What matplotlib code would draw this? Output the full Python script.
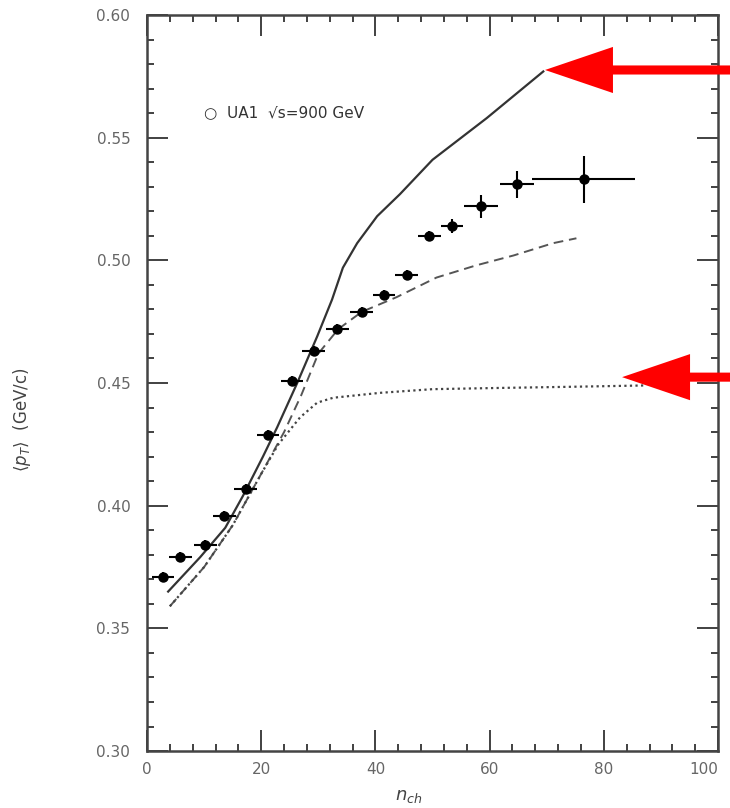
import matplotlib.pyplot as plt
from matplotlib.patches import FancyArrow
from matplotlib.ticker import MultipleLocator

# UA1 data points
n_ch = [2.8, 5.8, 10.2, 13.5, 17.3, 21.2, 25.4, 29.2, 33.3, 37.6,
        41.5, 45.5, 49.4, 53.4, 58.5, 64.8, 76.5]
pt_mean = [0.371, 0.379, 0.384, 0.396, 0.407, 0.429, 0.451, 0.463, 0.472, 0.479,
           0.486, 0.494, 0.510, 0.514, 0.522, 0.531, 0.533]
n_err = [2, 2, 2, 2, 2, 2, 2, 2, 2, 2, 2, 2, 2, 2, 3, 3, 9]
pt_err = [0.002, 0.002, 0.002, 0.002, 0.002, 0.002, 0.002, 0.002, 0.002, 0.002,
          0.002, 0.002, 0.002, 0.003, 0.0047, 0.0055, 0.0095]

# model curves
solid_x = [3.7, 9.3, 13.7, 16.8, 20.3, 22.8, 26.3, 29.8, 32.4, 34.3, 36.8,
           40.3, 44.3, 50.0, 59.5, 69.4]
solid_y = [0.365, 0.379, 0.391, 0.404, 0.420, 0.432, 0.450, 0.469, 0.484, 0.497, 0.507,
           0.518, 0.527, 0.541, 0.558, 0.577]

dashed_x = [4.0, 10, 15, 20, 24, 27, 30, 33.5, 37.6, 43.7, 50.7, 57.7, 64.2, 71.1, 75.2]
dashed_y = [0.359, 0.375, 0.392, 0.413, 0.430, 0.445, 0.462, 0.472, 0.479, 0.485,
            0.493, 0.498, 0.502, 0.507, 0.509]

dotted_x = [4.0, 10, 15, 20, 23, 26.8, 29.8, 32.6, 40.8, 50, 61.8, 75, 86.9]
dotted_y = [0.359, 0.375, 0.392, 0.413, 0.425, 0.436, 0.442, 0.444, 0.446, 0.4475,
            0.448, 0.4485, 0.449]

x_ticks = [0, 20, 40, 60, 80, 100]

# red arrows (tip x, tip y)
arrow_tips = [(69.7, 0.5776), (83.2, 0.4524)]

fig = plt.figure(figsize=(7.3, 8.08), dpi=100)
ax = fig.add_axes([0.2014, 0.0705, 0.7822, 0.9109])

ax.plot(solid_x, solid_y, color='#333333', lw=1.6, ls='-')
ax.plot(dashed_x, dashed_y, color='#555555', lw=1.4, ls=(0, (5, 3)))
ax.plot(dotted_x, dotted_y, color='#444444', lw=1.6, ls=(0, (1, 1.5)))

ax.errorbar(n_ch, pt_mean, xerr=n_err, yerr=pt_err, fmt='o', color='black',
            ms=6.5, elinewidth=1.5, capsize=0)

ax.set_xlim(0, 100)
ax.set_ylim(0.30, 0.60)
ax.set_xticks(x_ticks)
ax.set_xticklabels([str(t) for t in x_ticks])
ax.get_xticklabels()[-1].set_horizontalalignment('right')
ax.xaxis.set_minor_locator(MultipleLocator(4))
ax.yaxis.set_major_locator(MultipleLocator(0.05))
ax.yaxis.set_minor_locator(MultipleLocator(0.01))
ax.tick_params(which='both', direction='in', top=True, right=True,
               color='#333333', labelcolor='#666666', labelsize=11)
ax.tick_params(which='major', length=15, width=1.3)
ax.tick_params(which='minor', length=5, width=1.3)
ax.tick_params(axis='y', pad=12)
ax.tick_params(axis='x', pad=8)
ax.yaxis.set_major_formatter(plt.FormatStrFormatter('%.2f'))
for s in ax.spines.values():
    s.set_color('#444444')
    s.set_linewidth(1.8)

ax.text(0.100, 0.867, '○  UA1  √s=900 GeV', transform=ax.transAxes,
        fontsize=11, color='#333333', va='center')

fig.text(0.03, 0.48, r'$\langle p_T \rangle$  (GeV/c)', rotation=90,
         fontsize=12, color='#444444', ha='center', va='center')
fig.text(0.56, 0.015, r'$n_{ch}$', fontsize=13, color='#444444',
         ha='center', va='center')

for tx, ty in arrow_tips:
    arr = FancyArrow(102.5, ty, tx - 102.5, 0, width=0.0037, head_width=0.0188,
                     head_length=11.9, length_includes_head=True,
                     color='red', clip_on=False, lw=0, zorder=5)
    ax.add_patch(arr)

fig.savefig('out.png', dpi=100)
